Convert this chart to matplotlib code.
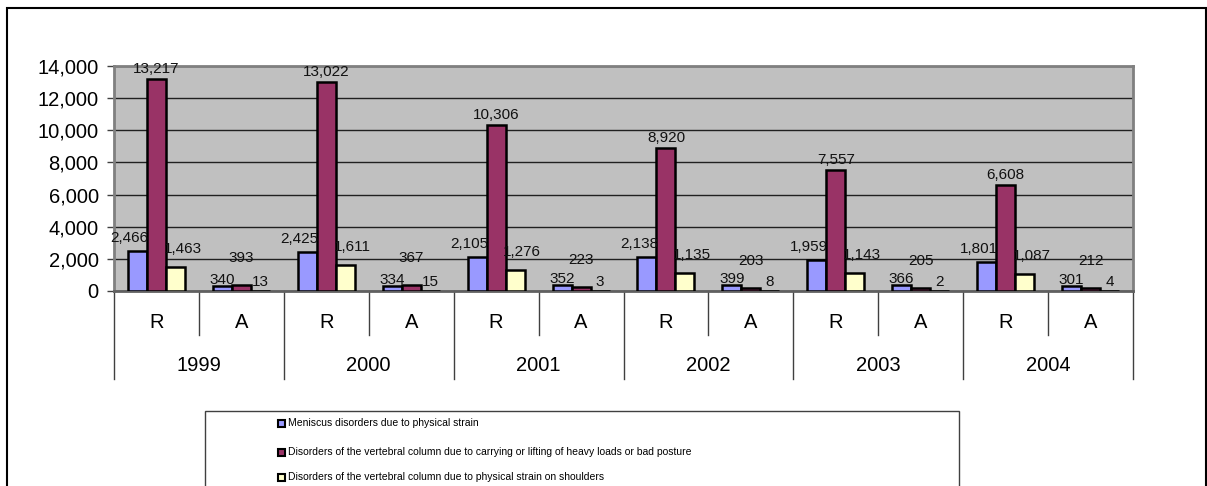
import matplotlib
matplotlib.use("Agg")
import matplotlib.pyplot as plt
from matplotlib.patches import Rectangle
from matplotlib.lines import Line2D
import matplotlib.transforms as mtransforms

years = ["1999", "2000", "2001", "2002", "2003", "2004"]
subcats = ["R", "A"]
series_names = [
    "Meniscus disorders due to physical strain",
    "Disorders of the vertebral column due to carrying or lifting of heavy loads or bad posture",
    "Disorders of the vertebral column due to physical strain on shoulders",
]
meniscus = [2466, 340, 2425, 334, 2105, 352, 2138, 399, 1959, 366, 1801, 301]
vertebral_loads = [13217, 393, 13022, 367, 10306, 223, 8920, 203, 7557, 205, 6608, 212]
vertebral_shoulders = [1463, 13, 1611, 15, 1276, 3, 1135, 8, 1143, 2, 1087, 4]
colors = ["#9999FF", "#993366", "#FFFFCC"]

W, H = 1207, 486
fig = plt.figure(figsize=(W / 100, H / 100), dpi=100)
fig.patch.set_facecolor("white")

def fx(px):
    return px / W

def fy(py):
    return 1 - py / H

left, right, top, bottom = 114, 1133, 66, 291
ax = fig.add_axes([fx(left), fy(bottom), fx(right - left), (bottom - top) / H])
ax.set_facecolor("#C0C0C0")

series = [meniscus, vertebral_loads, vertebral_shoulders]
n = len(meniscus)
xs = list(range(n))
bw = 0.224
offsets = [-bw, 0, bw]
for si, vals in enumerate(series):
    ax.bar([x + offsets[si] for x in xs], vals, width=bw, color=colors[si],
           edgecolor="black", linewidth=1.8, zorder=3)

ax.set_xlim(-0.5, n - 0.5)
ax.set_ylim(0, 14000)
ax.set_yticks(range(0, 14001, 2000))
ax.set_yticklabels([f"{v:,}" for v in range(0, 14001, 2000)],
                   fontfamily="Liberation Sans", fontsize=14.5)
ax.tick_params(axis="y", direction="out", length=5, width=1, pad=6, color="#404040")
ax.set_xticks([])
ax.grid(axis="y", color="#202020", linewidth=1.0, zorder=1)
ax.set_axisbelow(True)
for s in ax.spines.values():
    s.set_color("#808080")
    s.set_linewidth(2)
ax.spines["bottom"].set_color("#606060")

# data labels
lab_font = "Liberation Sans"
r_off = [(-8, 13), (0, 10), (7, 18)]
a_off = [(0, 6), (0, 27), (0, 9)]
for si, vals in enumerate(series):
    for i, v in enumerate(vals):
        dx, dy = (r_off if i % 2 == 0 else a_off)[si]
        ax.annotate(f"{v:,}", (i + offsets[si], v), xytext=(dx, dy),
                    textcoords="offset pixels", ha="center", va="center",
                    fontsize=11, family=lab_font, color="#111111", zorder=5,
                    annotation_clip=False)

# multi-level category axis
trans = mtransforms.blended_transform_factory(ax.transData, ax.transAxes)
ph = bottom - top
y_sub = -(322 - bottom) / ph
y_year = -(365 - bottom) / ph
y_sub_line = -(335 - bottom) / ph
y_year_line = -(379 - bottom) / ph
for i in range(n):
    ax.text(i, y_sub, subcats[i % 2], transform=trans, ha="center", va="center",
            fontsize=14.5, fontfamily="Liberation Sans")
for k, yr in enumerate(years):
    ax.text(2 * k + 0.5, y_year, yr, transform=trans, ha="center", va="center",
            fontsize=14.5, fontfamily="Liberation Sans")
for k in range(len(years)):
    ax.add_line(Line2D([2 * k + 0.5, 2 * k + 0.5], [0, y_sub_line], transform=trans,
                       color="#404040", linewidth=1, clip_on=False))
for k in range(len(years) + 1):
    ax.add_line(Line2D([2 * k - 0.5, 2 * k - 0.5], [0, y_year_line], transform=trans,
                       color="#404040", linewidth=1, clip_on=False))

# outer chart border
fig.add_artist(Rectangle((fx(7), fy(500)), fx(1206 - 7), (500 - 8) / H,
                         transform=fig.transFigure, fill=False,
                         edgecolor="black", linewidth=1.5))

# legend box
fig.add_artist(Rectangle((fx(205), fy(500)), fx(959 - 205), (500 - 411) / H,
                         transform=fig.transFigure, fill=False,
                         edgecolor="#404040", linewidth=1.0))
leg_y = [423, 452, 477]
for si, name in enumerate(series_names):
    y = leg_y[si]
    fig.add_artist(Rectangle((fx(278), fy(y + 4)), fx(7), 7 / H,
                             transform=fig.transFigure, facecolor=colors[si],
                             edgecolor="black", linewidth=1.5))
    fig.text(fx(288), fy(y), name, ha="left", va="center", fontsize=7.5,
             family=lab_font, color="black")

fig.savefig("out.png", dpi=100, facecolor="white")
